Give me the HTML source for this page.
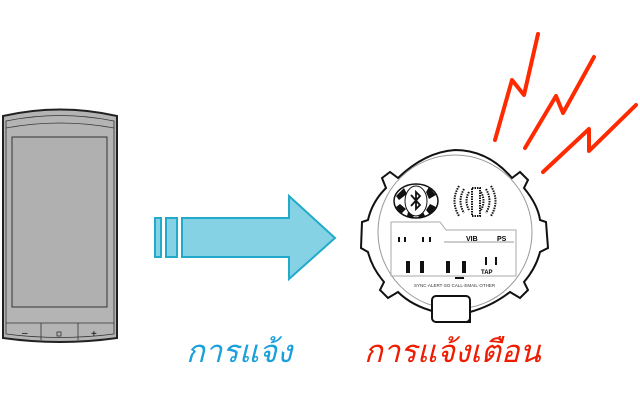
<!DOCTYPE html>
<html><head><meta charset="utf-8"><style>
html,body{margin:0;padding:0;background:#fff;width:640px;height:402px;overflow:hidden}
svg{position:absolute;left:0;top:0}
.t{position:absolute;font-family:"Liberation Sans",sans-serif;font-style:italic;font-size:31px;white-space:nowrap}
</style></head><body>
<svg width="640" height="402" viewBox="0 0 640 402">
<!-- phone -->
<path d="M3 116 Q60 103 117 116 L117 338 Q60 346 3 338 Z" fill="#b4b4b4" stroke="#222" stroke-width="2"/>
<path d="M6 121 Q60 110 114 121 L114 334 Q60 341 6 334 Z" fill="none" stroke="#333" stroke-width="0.8"/>
<path d="M6 128 Q60 118 114 128" fill="none" stroke="#333" stroke-width="0.8"/>
<rect x="12" y="137" width="95" height="170" fill="#b0b0b0" stroke="#333" stroke-width="1"/>
<path d="M6 323 L114 323 M41 323 L41 340 M78 323 L78 340" stroke="#333" stroke-width="0.8"/>
<text x="22" y="336" font-size="10" font-family="Liberation Sans">–</text>
<rect x="57" y="332" width="4" height="4" fill="none" stroke="#333" stroke-width="0.8"/>
<text x="91" y="337" font-size="10" font-family="Liberation Sans">+</text>
<!-- arrow -->
<g fill="#84d2e3" stroke="#22aacb" stroke-width="2">
<rect x="155" y="218" width="6" height="39"/>
<rect x="166" y="218" width="11" height="39"/>
<path d="M182 218 L289 218 L289 196 L335 238 L289 279 L289 257 L182 257 Z"/>
</g>
<!-- lightning -->
<g fill="none" stroke="#ff2a00" stroke-width="4" stroke-linecap="round" stroke-linejoin="round">
<path d="M495 140 L512 80 L524 95 L538 34"/>
<path d="M525 148 L556 96 L563 113 L594 57"/>
<path d="M543 172 L589 129 L589 151 L636 105"/>
</g>
<!-- watch -->
<path d="M382 178 L390 172 L398 178 Q425 152 455 150 Q488 150 512 178 L520 172 L528 180 L524 188 Q538 205 540 220 L546 222 L548 248 L540 252 Q536 268 524 282 L528 290 L520 298 L510 292 Q492 306 470 312 L470 322 L436 322 L436 312 Q412 306 398 292 L388 298 L380 290 L384 282 Q372 268 368 252 L361 248 L362 222 L368 220 Q372 202 386 188 Z" fill="#fff" stroke="#111" stroke-width="2"/>
<circle cx="455" cy="232" r="77" fill="#fff" stroke="#999" stroke-width="1"/>
<rect x="432" y="296" width="38" height="26" rx="4" fill="#fff" stroke="#111" stroke-width="2"/>
<ellipse cx="416" cy="201" rx="22" ry="17" fill="#fff" stroke="#111" stroke-width="1.5"/>
<g fill="#111">
<path d="M396 196 L404 188 L407 194 L399 200 Z"/>
<path d="M429 187 L436 195 L429 199 L426 192 Z"/>
<path d="M396 207 L401 214 L406 209 L400 204 Z"/>
<path d="M430 215 L436 207 L430 204 L426 210 Z"/>
<path d="M407 216 L413 218 L414 214 L408 212 Z"/>
<path d="M419 218 L425 216 L423 212 L418 214 Z"/>
</g>
<ellipse cx="416" cy="201" rx="11" ry="15" fill="#fff" stroke="#111" stroke-width="1"/>
<path d="M411 195 L420 205 L416 209 L416 192 L420 196 L411 206" fill="none" stroke="#111" stroke-width="1.8"/>
<g fill="none" stroke="#111" stroke-width="2" stroke-dasharray="1.5 1">
<path d="M459 186 Q450 201 459 216"/><path d="M464 189 Q457 201 464 213"/><path d="M469 192 Q464 201 469 210"/>
<path d="M491 186 Q500 201 491 216"/><path d="M486 189 Q493 201 486 213"/><path d="M481 192 Q486 201 481 210"/>
<rect x="472" y="188" width="8" height="28"/>
</g>
<path d="M391 222 L440 222 L446 230 L516 230 L516 276 L391 276 Z" fill="none" stroke="#aaa" stroke-width="1"/>
<line x1="444" y1="242" x2="514" y2="242" stroke="#999" stroke-width="1"/>
<g fill="#111">
<rect x="398" y="237" width="2" height="5"/><rect x="404" y="237" width="2" height="5"/><rect x="422" y="237" width="2" height="5"/><rect x="429" y="237" width="2" height="5"/>
<rect x="406" y="261" width="4" height="12"/><rect x="420" y="261" width="4" height="12"/><rect x="446" y="261" width="4" height="12"/><rect x="462" y="261" width="4" height="12"/>
<rect x="485" y="257" width="2" height="8"/><rect x="495" y="257" width="2" height="8"/>
<rect x="455" y="277" width="9" height="2"/>
</g>
<text x="466" y="241" font-size="7" font-weight="bold" font-family="Liberation Sans">VIB</text>
<text x="497" y="241" font-size="7" font-weight="bold" font-family="Liberation Sans">PS</text>
<text x="481" y="274" font-size="6" font-weight="bold" font-family="Liberation Sans">TAP</text>
<text x="414" y="287" font-size="4.5" font-family="Liberation Sans" fill="#333">SYNC·ALERT·SO CALL·EMAIL·OTHER</text>
</svg>
<div class="t" style="left:186px;top:326px;color:#1aa0dc">การแจ้ง</div>
<div class="t" style="left:364px;top:326px;color:#ee1c00">การแจ้งเตือน</div>
</body></html>
